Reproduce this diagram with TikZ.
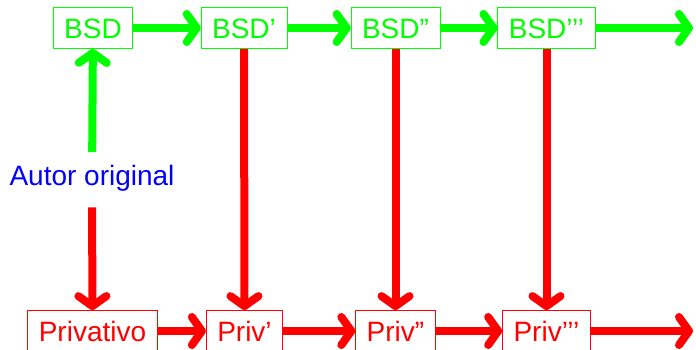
\documentclass[tikz,border=0pt]{standalone}
\usepackage{fontspec}
\setmainfont{Liberation Sans}
\usetikzlibrary{arrows.meta}
\begin{document}
\begin{tikzpicture}[x=1pt, y=1pt, line width=8pt,
		font=\fontsize{28}{34}\selectfont,
		box/.style = {draw, line width=0.8pt, text height=25.8pt, text depth=5.6pt, inner xsep=11pt, inner ysep=4.8pt},
		flow/.style = {-{Straight Barb[round, length=10pt, width=28pt]}}]

		\useasboundingbox (0,0) rectangle (696,349);

		\node[box, green] (b0) at (93,321) {BSD};
		\node[box, green] (b1) at (244,321) {BSD’};
		\node[box, green] (b2) at (395.5,321) {BSD”};
		\node[box, green] (b3) at (546.5,321) {BSD’’’};
		\coordinate (bend) at (693,321);

		\node[box, red] (p0) at (92.5,18) {Privativo};
		\node[box, red] (p1) at (244.5,18) {Priv’};
		\node[box, red] (p2) at (395.5,18) {Priv”};
		\node[box, red] (p3) at (546.5,18) {Priv’’’};
		\coordinate (pend) at (693,18);

		\node[blue, anchor=base, text height=25.8pt, text depth=15.4pt, inner ysep=3pt] (autor) at (92,164) {Autor original};

		% linha BSD
		\draw[flow, green] (b0) -- (b1);
		\draw[flow, green] (b1) -- (b2);
		\draw[flow, green] (b2) -- (b3);
		\draw[flow, green] (b3) -- (bend);

		% linha privativa
		\draw[flow, red] (p0) -- (p1);
		\draw[flow, red] (p1) -- (p2);
		\draw[flow, red] (p2) -- (p3);
		\draw[flow, red] (p3) -- (pend);

		\draw[flow, green] (autor) -- (b0);
		\draw[flow, red] (autor) -- (p0);
		\draw[flow, red] (b1) -- (p1);
		\draw[flow, red] (b2) -- (p2);
		\draw[flow, red] (b3) -- (p3);
	\end{tikzpicture}
\end{document}
